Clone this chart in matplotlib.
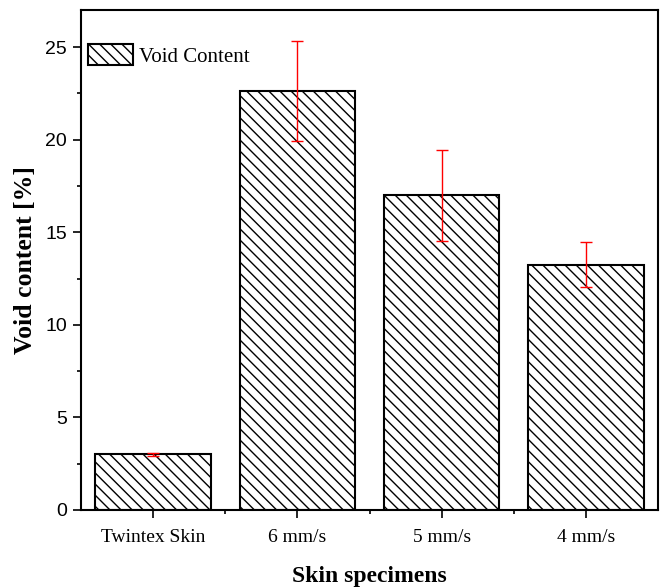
import matplotlib
matplotlib.use("Agg")
import matplotlib.pyplot as plt
from matplotlib.ticker import MultipleLocator, FixedLocator

categories = ["Twintex Skin", "6 mm/s", "5 mm/s", "4 mm/s"]
void_content = [3.0, 22.6, 17.0, 13.25]
void_err = [0.1, 2.7, 2.45, 1.2]

plt.rcParams['hatch.linewidth'] = 1.0

fig = plt.figure(figsize=(6.65, 5.87), dpi=100)
ax = fig.add_axes([81/665, 77/587, 577/665, 500/587])

x = list(range(len(categories)))
ax.bar(x, void_content, width=0.8, color='white', edgecolor='black',
       linewidth=1.5, hatch='\\' * 3, label='Void Content', zorder=2)
ax.errorbar(x, void_content, yerr=void_err, fmt='none', ecolor='red',
            elinewidth=1.0, capsize=4, capthick=1.0, zorder=3)

ax.set_xlim(-0.5, 3.5)
ax.set_ylim(0, 27)
ax.set_xticks(x)
ax.set_xticklabels(categories, family='Liberation Serif', fontsize=14)
ax.xaxis.set_minor_locator(FixedLocator([0.5, 1.5, 2.5]))
ax.yaxis.set_major_locator(MultipleLocator(5))
ax.yaxis.set_minor_locator(MultipleLocator(2.5))
for lab in ax.get_yticklabels():
    lab.set_family('Liberation Sans')
    lab.set_fontsize(14)
ax.tick_params(which='major', direction='out', length=6, width=1.2)
ax.tick_params(which='minor', direction='out', length=3, width=1.2)
ax.tick_params(axis='x', pad=8)
ax.tick_params(axis='y', pad=4)
for s in ax.spines.values():
    s.set_linewidth(1.5)

ax.set_xlabel('Skin specimens', family='Liberation Serif', fontweight='bold',
              fontsize=17, labelpad=14)
ax.set_ylabel('Void content [%]', family='Liberation Serif', fontweight='bold',
              fontsize=18.5, labelpad=6)

leg = ax.legend(loc='upper left', frameon=False, prop={'family': 'Liberation Serif', 'size': 15},
                handlelength=2.15, handleheight=1.2, handletextpad=0.3,
                borderpad=0, borderaxespad=0, bbox_to_anchor=(0.012, 0.932))

fig.savefig('out.png', dpi=100)
